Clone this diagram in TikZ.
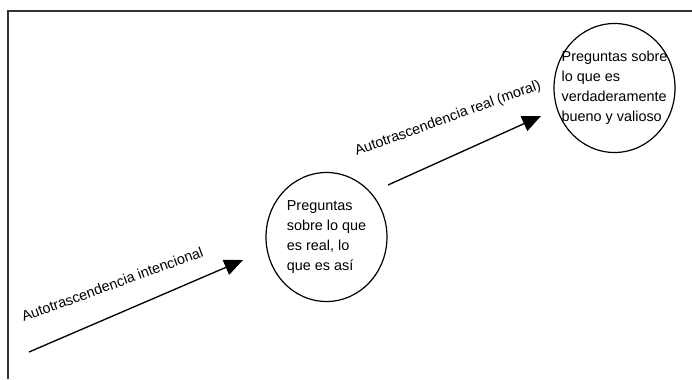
\documentclass[tikz,border=0pt]{standalone}
\usepackage{fontspec}
\setmainfont{Liberation Sans}
\usepackage{tikz}
\usetikzlibrary{shapes.geometric,arrows.meta}

\begin{document}
\begin{tikzpicture}[x=0.75pt,y=0.75pt,yscale=-1,xscale=1,
    globo/.style={draw, line width=0.9pt, ellipse, inner sep=0pt, minimum width=90.75pt, minimum height=96.75pt},
    pregunta/.style={align=left, inner sep=0pt, font=\fontsize{10.8}{15}\selectfont},
    flecha/.style={line width=1pt, -{Triangle[length=14pt,width=12pt]}},
    rotulo/.style={anchor=base west, inner sep=0pt, rotate=20, font=\fontsize{10.8}{13}\selectfont}]
        \useasboundingbox (0,0) rectangle (692,379);
        %Straight Lines [frame]
        \draw [black!80, line width=0.9pt] (8,379) -- (8,11) -- (692,11) ;
        %Shape: Ellipse [real]
        \node [globo] (realEll) at (326.5,237) {};
        \node [pregunta] (realTxt) at (realEll.center) {Preguntas\\sobre lo que\\es real, lo\\que es así};
        %Shape: Ellipse [bueno]
        \node [globo] (buenoEll) at (614.5,88) {};
        \node [pregunta] (buenoTxt) at (buenoEll.center) {Preguntas sobre\\lo que es\\verdaderamente\\bueno y valioso};
        %Straight Lines [arrows]
        \coordinate (intIni) at (29,352) ;
        \coordinate (intFin) at (243,260) ;
        \coordinate (morIni) at (388,185) ;
        \coordinate (morFin) at (541,116) ;
        \draw [flecha] (intIni) -- (intFin) ;
        \draw [flecha] (morIni) -- (morFin) ;
        % Text Node
        \node [rotulo] (intLbl) at (23.5,322) {Autotrascendencia intencional};
        % Text Node
        \node [rotulo] (morLbl) at (356.5,156) {Autotrascendencia real (moral)};
\end{tikzpicture}
\end{document}
